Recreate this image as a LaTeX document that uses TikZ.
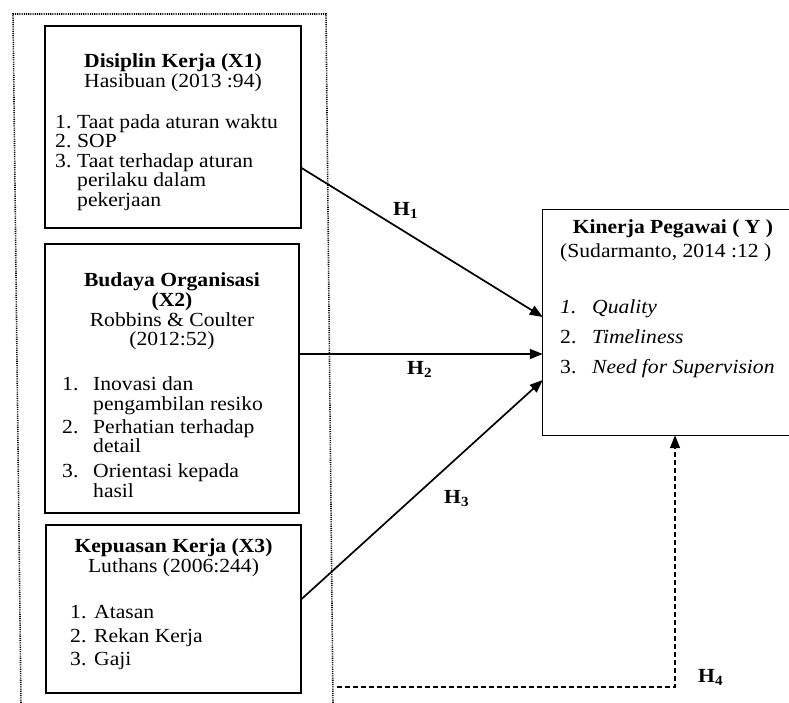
\documentclass[tikz,border=0pt]{standalone}
\usepackage{fontspec}
\setmainfont{Liberation Serif}[FakeStretch=1.08]
\usetikzlibrary{arrows.meta}
\tikzset{
  box/.style={draw, line width=1.2pt, rectangle, inner sep=0pt},
  txt/.style={inner sep=0pt, anchor=base west, font=\fontsize{20}{20}\selectfont},
  ctxt/.style={inner sep=0pt, anchor=base, font=\fontsize{20}{20}\selectfont},
  btxt/.style={inner sep=0pt, anchor=base, font=\fontsize{20}{20}\selectfont\bfseries},
  arr/.style={line width=1.7pt, -{Triangle[length=13pt,width=10pt]}},
  dsh/.style={line width=1.4pt, dash pattern=on 5pt off 3pt, -{Triangle[length=13pt,width=10pt]}},
  frame/.style={line width=1.6pt, dash pattern=on 1.1pt off 1.1pt},
  hlab/.style={inner sep=0pt, anchor=base west, font=\fontsize{20}{20}\selectfont\bfseries}
}
\begin{document}
\begin{tikzpicture}[x=1pt,y=-1pt]
\useasboundingbox (0,0) rectangle (789,702);
% dotted frame
\draw[frame] (21,705) -- (13,14) -- (326,14) -- (333,705);
% boxes
\node[box, minimum width=256pt, minimum height=202pt] (b1) at (173,127) {};
\node[box, minimum width=254pt, minimum height=269pt] (b2) at (172,378.5) {};
\node[box, minimum width=255pt, minimum height=168pt] (b3) at (173.5,609) {};
\node[inner sep=0pt, minimum width=246pt, minimum height=225pt] (y) at (666,322.5) {};
\draw[line width=1.2pt] (y.north east) -- (y.north west) -- (y.south west) -- (y.south east);
% box 1 text
\node[btxt] (t1a) at (173,67.7) {Disiplin Kerja (X1)};
\node[ctxt] (t1b) at (173,87.3) {Hasibuan (2013 :94)};
\node[txt] (n11) at (55,128) {1.};
\node[txt] (i11) at (77,128) {Taat pada aturan waktu};
\node[txt] (n12) at (55,147.5) {2.};
\node[txt] (i12) at (77,147.5) {SOP};
\node[txt] (n13) at (55,167) {3.};
\node[txt] (i13) at (77,167) {Taat terhadap aturan};
\node[txt] (i13b) at (77,186.5) {perilaku dalam};
\node[txt] (i13c) at (77,206) {pekerjaan};
% box 2 text
\node[btxt] (t2a) at (172,286.7) {Budaya Organisasi};
\node[btxt] (t2b) at (172,306.5) {(X2)};
\node[ctxt] (t2c) at (172,326.5) {Robbins \& Coulter};
\node[ctxt] (t2d) at (172,345.5) {(2012:52)};
\node[txt] (n21) at (62,390) {1.};
\node[txt] (i21) at (93,390) {Inovasi dan};
\node[txt] (i21b) at (93,410) {pengambilan resiko};
\node[txt] (n22) at (62,433) {2.};
\node[txt] (i22) at (93,433) {Perhatian terhadap};
\node[txt] (i22b) at (93,452) {detail};
\node[txt] (n23) at (62,477) {3.};
\node[txt] (i23) at (93,477) {Orientasi kepada};
\node[txt] (i23b) at (93,497) {hasil};
% box 3 text
\node[btxt] (t3a) at (173.5,552) {Kepuasan Kerja (X3)};
\node[ctxt] (t3b) at (173.5,572) {Luthans (2006:244)};
\node[txt] (n31) at (70,618) {1.};
\node[txt] (i31) at (94,618) {Atasan};
\node[txt] (n32) at (70,642) {2.};
\node[txt] (i32) at (94,642) {Rekan Kerja};
\node[txt] (n33) at (70,665) {3.};
\node[txt] (i33) at (94,665) {Gaji};
% box Y text
\node[btxt] (tya) at (673,233) {Kinerja Pegawai ( Y )};
\node[txt] (tyb) at (560,257) {(Sudarmanto, 2014 :12 )};
\node[txt] (ny1) at (560,313) {\itshape 1.};
\node[txt] (iy1) at (592,313) {\itshape Quality};
\node[txt] (ny2) at (560,343) {2.};
\node[txt] (iy2) at (592,343) {\itshape Timeliness};
\node[txt] (ny3) at (560,373) {3.};
\node[txt] (iy3) at (592,373) {\itshape Need for Supervision};
% connectors
\draw[arr] ([yshift=-41pt]b1.east) -- ([yshift=5.5pt]y.west);
\draw[arr] ([yshift=24.5pt]b2.east) -- ([yshift=-31.5pt]y.west);
\draw[arr] ([yshift=10pt]b3.east) -- ([yshift=-57.5pt]y.west);
\coordinate (h4s) at (337,687);
\draw[dsh] (h4s) -| ([xshift=9pt]y.south);
% labels
\node[hlab] (h1) at (393,215) {H\textsubscript{1}};
\node[hlab] (h2) at (407,374) {H\textsubscript{2}};
\node[hlab] (h3) at (444,503) {H\textsubscript{3}};
\node[hlab] (h4) at (698,682) {H\textsubscript{4}};
\end{tikzpicture}
\end{document}
